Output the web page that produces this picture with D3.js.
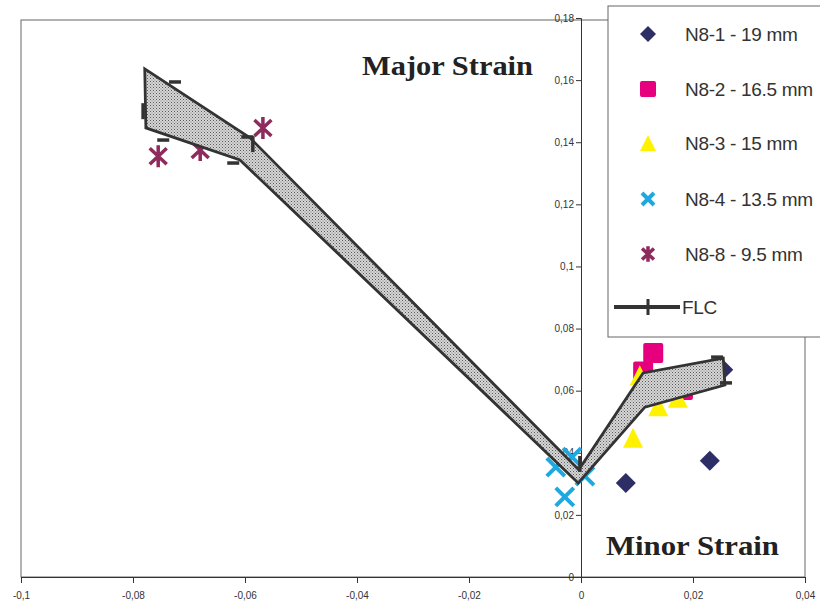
<!DOCTYPE html>
<html>
<head>
<meta charset="utf-8">
<script src="https://cdn.jsdelivr.net/npm/d3@7"></script>
<style>
  body { margin: 0; background: #fff; }
  svg { display: block; }
  .tick-label { font-family: "Liberation Sans", Arial, sans-serif; font-size: 10px; fill: #333; }
  .legend-text { font-family: "Liberation Sans", Arial, sans-serif; font-size: 19px; fill: #333; letter-spacing: -0.3px; }
  .title { font-family: "Liberation Serif", "Times New Roman", serif; font-weight: bold; font-size: 28px; fill: #222; }
</style>
</head>
<body>
<div id="chart"></div>
<script>

// tick values
const xTicks = [-0.1, -0.08, -0.06, -0.04, -0.02, 0, 0.02, 0.04];
const yTicks = [0, 0.02, 0.04, 0.06, 0.08, 0.1, 0.12, 0.14, 0.16, 0.18];

// series  [minor strain, major strain]
const n81 = [[0.0080, 0.0303], [0.0230, 0.0374], [0.0254, 0.0667]];
const n82 = [[0.0129, 0.0721], [0.0111, 0.0662], [0.0120, 0.0585], [0.0182, 0.0602]];
const n83 = [[0.0105, 0.0650], [0.0138, 0.0550], [0.0173, 0.0577], [0.0093, 0.0448]];
const n84 = [[-0.0045, 0.0354], [-0.0016, 0.0386], [-0.0029, 0.0258], [0.0007, 0.0325]];
const n88 = [[-0.0755, 0.1355], [-0.0680, 0.1375], [-0.0568, 0.1446]];

// FLC band, upper and lower bounds
const flcUpper = [[-0.0779, 0.1636], [-0.0591, 0.1414], [-0.0004, 0.0345], [0.0111, 0.0657], [0.0254, 0.0705]];
const flcLower = [[-0.0777, 0.1446], [-0.0609, 0.1343], [-0.0005, 0.0303], [0.0114, 0.0547], [0.0257, 0.0618]];
// FLC marker dashes
const flcDashH = [[-0.0725, 0.1594], [-0.0746, 0.1407], [-0.0596, 0.1417], [-0.0621, 0.1333], [0.0243, 0.0708], [0.0259, 0.0625]];
const flcDashV = [[-0.0782, 0.1500], [-0.0586, 0.1394], [-0.0002, 0.0364]];

const legendLabels = ["N8-1 - 19 mm", "N8-2 - 16.5 mm", "N8-3 - 15 mm", "N8-4 - 13.5 mm", "N8-8 - 9.5 mm", "FLC"];

const width = 820, height = 603;

const svg = d3.select("#chart").append("svg")
  .attr("width", width)
  .attr("height", height);

const x = d3.scaleLinear().domain([-0.1, 0.04]).range([21, 805]);
const y = d3.scaleLinear().domain([0, 0.18]).range([577, 18]);

const locale = d3.formatLocale({decimal: ",", thousands: ".", grouping: [3], currency: ["", ""], minus: "-"});
const fmt = locale.format("~g");

// stipple pattern for FLC band
const defs = svg.append("defs");
const pat = defs.append("pattern")
  .attr("id", "stipple")
  .attr("width", 3).attr("height", 3)
  .attr("patternUnits", "userSpaceOnUse");
pat.append("rect").attr("width", 3).attr("height", 3).attr("fill", "#d6d6d6");
pat.append("rect").attr("x", 0).attr("y", 0).attr("width", 1).attr("height", 1).attr("fill", "#5a5a5a");
pat.append("rect").attr("x", 1.5).attr("y", 1.5).attr("width", 1).attr("height", 1).attr("fill", "#7a7a7a");

// plot area frame
svg.append("rect")
  .attr("x", 21).attr("y", 20)
  .attr("width", 784).attr("height", 557)
  .attr("fill", "none")
  .attr("stroke", "#666")
  .attr("stroke-width", 1);

// x axis
const xAxis = svg.append("g")
  .attr("transform", "translate(0," + y(0) + ")")
  .call(d3.axisBottom(x).tickValues(xTicks).tickSize(6).tickFormat(fmt));
xAxis.select(".domain").attr("stroke", "#333");
xAxis.selectAll(".tick line").attr("stroke", "#333");
xAxis.selectAll(".tick text").attr("class", "tick-label").attr("font-family", null).attr("font-size", null).attr("dy", "1.25em");

// y axis
const yAxis = svg.append("g")
  .attr("transform", "translate(" + x(0) + ",0)")
  .call(d3.axisLeft(y).tickValues(yTicks).tickSize(5).tickFormat(fmt));
yAxis.select(".domain").attr("stroke", "#333");
yAxis.selectAll(".tick line").attr("stroke", "#333");
yAxis.selectAll(".tick text").attr("class", "tick-label").attr("font-family", null).attr("font-size", null).attr("x", -7);

// marker shapes
function drawDiamond(g, s) {
  g.append("path").attr("d", `M0,${-s}L${s},0L0,${s}L${-s},0Z`).attr("fill", "#2e2e66");
}
function drawSquare(g, s) {
  g.append("rect").attr("x", -s).attr("y", -s).attr("width", 2 * s).attr("height", 2 * s)
    .attr("rx", 2).attr("fill", "#e6007e");
}
function drawTriangle(g, s) {
  g.append("path").attr("d", `M0,${-s}L${s},${s}L${-s},${s}Z`).attr("fill", "#fff200");
}
function drawCross(g, s) {
  g.append("path").attr("d", `M${-s},${-s}L${s},${s}M${s},${-s}L${-s},${s}`)
    .attr("stroke", "#1ea8e0").attr("stroke-width", 4).attr("fill", "none");
}
function drawStar(g, s) {
  g.append("path").attr("d", `M${-s * 0.85},${-s * 0.8}L${s * 0.85},${s * 0.8}M${s * 0.85},${-s * 0.8}L${-s * 0.85},${s * 0.8}M0,${-s * 1.1}L0,${s * 1.1}`)
    .attr("stroke", "#8e2a5c").attr("stroke-width", 3.5).attr("fill", "none");
}

const series = [
  {data: n81, draw: drawDiamond, size: 10, legendSize: 8},
  {data: n82, draw: drawSquare, size: 10, legendSize: 8},
  {data: n83, draw: drawTriangle, size: 10, legendSize: 8},
  {data: n84, draw: drawCross, size: 9, legendSize: 6},
  {data: n88, draw: drawStar, size: 10, legendSize: 7}
];

const points = svg.append("g");
series.forEach(function(s) {
  s.data.forEach(function(d) {
    const g = points.append("g").attr("transform", "translate(" + x(d[0]) + "," + y(d[1]) + ")");
    s.draw(g, s.size);
  });
});

// FLC band
const band = flcUpper.concat(flcLower.slice().reverse());
svg.append("path")
  .attr("d", d3.line().x(d => x(d[0])).y(d => y(d[1])).curve(d3.curveLinearClosed)(band))
  .attr("fill", "url(#stipple)")
  .attr("stroke", "#333")
  .attr("stroke-width", 2.8)
  .attr("stroke-linejoin", "miter");

svg.append("g").selectAll("line.dh")
  .data(flcDashH).join("line")
  .attr("x1", d => x(d[0]) - 6).attr("x2", d => x(d[0]) + 6)
  .attr("y1", d => y(d[1])).attr("y2", d => y(d[1]))
  .attr("stroke", "#333").attr("stroke-width", 3.5);

svg.append("g").selectAll("line.dv")
  .data(flcDashV).join("line")
  .attr("x1", d => x(d[0])).attr("x2", d => x(d[0]))
  .attr("y1", d => y(d[1]) - 8).attr("y2", d => y(d[1]) + 8)
  .attr("stroke", "#333").attr("stroke-width", 3.5);

// titles
svg.append("text").attr("class", "title").attr("x", 362).attr("y", 75)
  .attr("textLength", 171).attr("lengthAdjust", "spacingAndGlyphs").text("Major Strain");
svg.append("text").attr("class", "title").attr("x", 606).attr("y", 555)
  .attr("textLength", 173).attr("lengthAdjust", "spacingAndGlyphs").text("Minor Strain");

// legend
const legend = svg.append("g").attr("transform", "translate(608,6)");
legend.append("rect")
  .attr("width", 230).attr("height", 331)
  .attr("fill", "#fff").attr("stroke", "#666");

const rowY = [28, 83, 137, 193, 248, 301];
series.forEach(function(s, i) {
  const g = legend.append("g").attr("transform", "translate(40," + rowY[i] + ")");
  s.draw(g, s.legendSize);
});
legend.append("line").attr("x1", 6).attr("x2", 72).attr("y1", rowY[5]).attr("y2", rowY[5])
  .attr("stroke", "#333").attr("stroke-width", 4);
legend.append("line").attr("x1", 40).attr("x2", 40).attr("y1", rowY[5] - 8).attr("y2", rowY[5] + 8)
  .attr("stroke", "#333").attr("stroke-width", 3);

legend.selectAll("text.legend-text")
  .data(legendLabels).join("text")
  .attr("class", "legend-text")
  .attr("x", (d, i) => i === 5 ? 74 : 77)
  .attr("y", (d, i) => rowY[i] + 7)
  .text(d => d);

</script>
</body>
</html>
